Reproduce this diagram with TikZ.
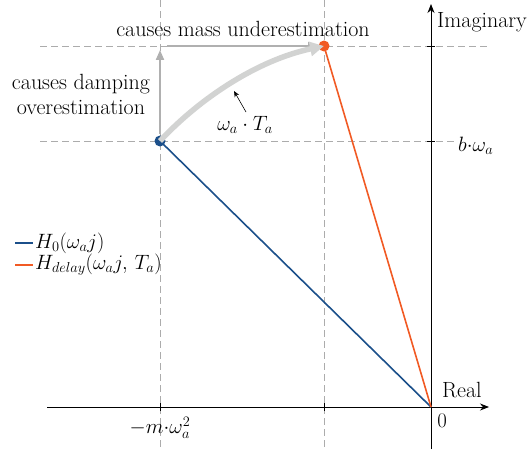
\documentclass[tikz,border=0pt]{standalone}
\usetikzlibrary{arrows.meta}
\definecolor{hblue}{HTML}{1B4F8A}
\definecolor{horange}{HTML}{F15A24}
\definecolor{dgray}{HTML}{B0B0B0}
\definecolor{lgray}{HTML}{D2D3D2}
\begin{document}
\begin{tikzpicture}[x=1pt,y=-1pt,
  grid/.style={gray!65,line width=0.6pt,dash pattern=on 7pt off 4pt},
  axis/.style={line width=0.8pt,-{Stealth[length=9pt,width=7pt]}},
  lbl/.style={font=\fontsize{20}{23}\selectfont,inner sep=1pt},
  txt/.style={font=\fontsize{22}{25}\selectfont,inner sep=1pt},
  dotnode/.style={circle,inner sep=0pt,minimum size=11pt}]
\useasboundingbox (0,0) rectangle (529,449);
% coordinates
\coordinate (O) at (431,407);
\coordinate (P0) at (160,141);
\coordinate (P1) at (324,46);
% grid
\draw[grid] (160,0) -- (160,449);
\draw[grid] (324,0) -- (324,449);
\draw[grid] (40,46) -- (488,46);
\draw[grid] (40,141) -- (458,141);
% axes
\coordinate (xs) at (47,407);
\coordinate (xe) at (489,407);
\coordinate (ys) at (431,449);
\coordinate (ye) at (431,4);
\draw[axis] (xs) -- (xe);
\draw[axis] (ys) -- (ye);
\foreach \x in {160,324} \draw[line width=0.6pt] (\x,403) -- (\x,411);
\foreach \y in {46,141} \draw[line width=0.6pt] (427,\y) -- (435,\y);
% lines
\draw[hblue,line width=1.6pt] (O) -- (P0);
\draw[horange,line width=1.6pt] (O) -- (P1);
\node[dotnode,fill=hblue] (n0) at (P0) {};
\node[dotnode,fill=horange] (n1) at (P1) {};
% gray arrows
\coordinate (va) at (160,134);
\coordinate (vb) at (160,50);
\coordinate (ha) at (167,46);
\coordinate (hb) at (318,46);
\draw[dgray,line width=2pt,-{Triangle[length=10pt,width=8pt]}] (va) -- (vb);
\draw[dgray,line width=2pt,-{Triangle[length=10pt,width=8pt]}] (ha) -- (hb);
% arc
\draw[lgray,line width=5.5pt,-{Triangle[length=14pt,width=14pt]}] (P0) .. controls (200,98) and (258,60) .. (324,46);
% annotation arrow
\coordinate (aa) at (246,112);
\coordinate (ab) at (234,91);
\draw[line width=0.6pt,-{Stealth[length=6pt,width=5pt]}] (aa) -- (ab);
\node[lbl] (wt) at (245,125) {$\omega_a\cdot T_a$};
% texts
\node[txt] (tm) at (243,29) {causes mass underestimation};
\node[txt,align=center] (td) at (81,94) {causes damping\\overestimation};
\node[txt,anchor=west] (im) at (436,22) {Imaginary};
\node[txt,anchor=west] (re) at (441,390) {Real};
\node[lbl] (zero) at (442,421) {$0$};
\node[lbl] (mw) at (160,428) {$-m{\cdot}\omega_a^2$};
\node[lbl,anchor=west,fill=white,inner sep=0pt] (bw) at (458,146) {$b{\cdot}\omega_a$};
% legend
\coordinate (l0a) at (15,243);
\coordinate (l0b) at (33,243);
\coordinate (l1a) at (15,265);
\coordinate (l1b) at (33,265);
\draw[hblue,line width=1.6pt] (l0a) -- (l0b);
\draw[horange,line width=1.6pt] (l1a) -- (l1b);
\node[lbl,anchor=west] (lg0) at (34,243) {$H_0(\omega_a j)$};
\node[lbl,anchor=west] (lg1) at (34,265) {$H_{delay}(\omega_a j,\,T_a)$};
\end{tikzpicture}
\end{document}
